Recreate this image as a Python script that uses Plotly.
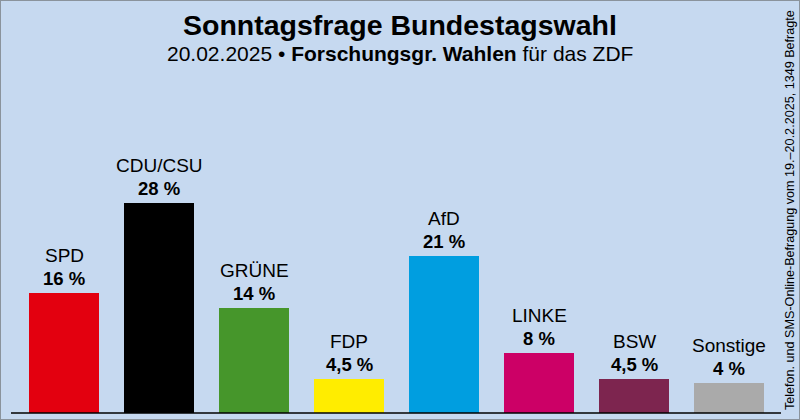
import plotly.graph_objects as go

parties = ["SPD", "CDU/CSU", "GRÜNE", "FDP", "AfD", "LINKE", "BSW", "Sonstige"]
values = [16, 28, 14, 4.5, 21, 8, 4.5, 4]
value_labels = ["16 %", "28 %", "14 %", "4,5 %", "21 %", "8 %", "4,5 %", "4 %"]
colors = ["#e3000f", "#000000", "#46962b", "#ffed00", "#009ee0", "#cc0066", "#7d254f", "#aaaaaa"]

title = "Sonntagsfrage Bundestagswahl"
subtitle = "20.02.2025 • <b>Forschungsgr. Wahlen</b> für das ZDF"
source_note = "Telefon. und SMS-Online-Befragung vom 19.–20.2.2025, 1349 Befragte"

W, H = 800, 420
bg = "#c6d9f0"
font = "Liberation Sans, Arial, sans-serif"

# pixel geometry: bar centers 64 + 95*i, 7.5 px per percent, baseline 7 px above bottom
x0 = -64 / 95
y0 = -7 / 7.5

fig = go.Figure()
fig.add_trace(go.Bar(
    x=parties, y=values, marker=dict(color=colors, line=dict(width=0)),
    width=70 / 95, hoverinfo="skip",
))

annotations = []
for p, v, lab in zip(parties, values, value_labels):
    annotations.append(dict(x=p, y=v, xref="x", yref="y", text=f"<b>{lab}</b>",
                            showarrow=False, yanchor="bottom", yshift=2,
                            font=dict(size=18.5, color="#000", family=font)))
    annotations.append(dict(x=p, y=v, xref="x", yref="y", text=p,
                            showarrow=False, yanchor="bottom", yshift=25,
                            font=dict(size=19, color="#000", family=font)))

annotations.append(dict(x=0.5, y=1 - 25 / H, xref="paper", yref="paper", text=f"<b>{title}</b>",
                        showarrow=False, yanchor="middle", xanchor="center",
                        font=dict(size=28.5, color="#000", family=font)))
annotations.append(dict(x=0.5, y=1 - 53 / H, xref="paper", yref="paper", text=subtitle,
                        showarrow=False, yanchor="middle", xanchor="center",
                        font=dict(size=21, color="#000", family=font)))
annotations.append(dict(x=790 / W, y=1 - 210 / H, xref="paper", yref="paper", text=source_note,
                        showarrow=False, yanchor="middle", xanchor="center", textangle=-90,
                        font=dict(size=12.6, color="#000", family=font)))

shapes = [
    dict(type="line", xref="paper", yref="y", x0=11 / W, x1=781 / W, y0=0, y1=0,
         line=dict(color="#000", width=1.5)),
    dict(type="rect", xref="paper", yref="paper", x0=0, x1=1, y0=0, y1=1,
         line=dict(color="#8a939c", width=2)),
]

fig.update_layout(
    width=W, height=H, margin=dict(l=0, r=0, t=0, b=0),
    paper_bgcolor=bg, plot_bgcolor=bg, showlegend=False,
    xaxis=dict(range=[x0, x0 + W / 95], showticklabels=False, showgrid=False, zeroline=False,
               fixedrange=True),
    yaxis=dict(range=[y0, y0 + H / 7.5], showticklabels=False, showgrid=False, zeroline=False,
               fixedrange=True),
    annotations=annotations, shapes=shapes, bargap=0,
)

fig.write_html("out.html", config={"displayModeBar": False},
               post_script="document.body.style.margin='0';document.body.style.overflow='hidden';")
